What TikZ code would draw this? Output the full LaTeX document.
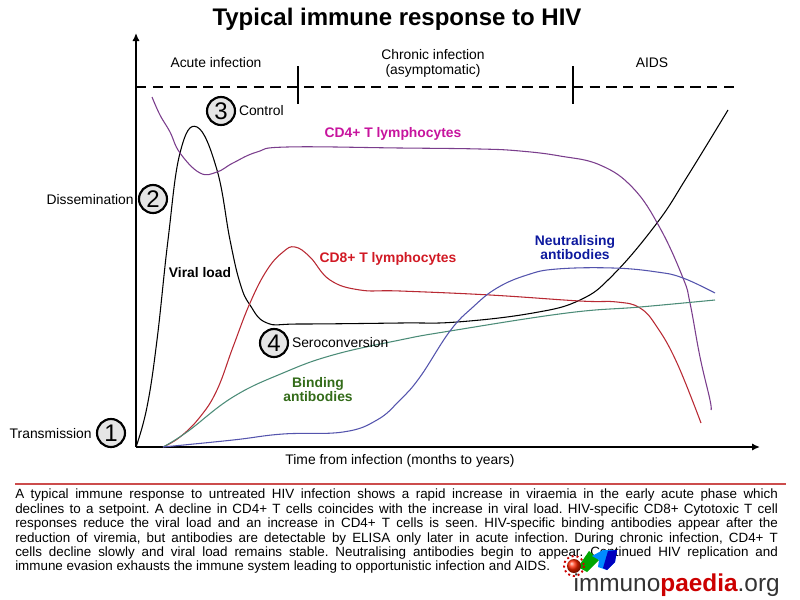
\documentclass[tikz,border=0pt]{standalone}
\usepackage{xcolor}
\usepackage{fontspec}
\setmainfont{Liberation Sans}
\usetikzlibrary{arrows.meta}
\definecolor{cdfour}{rgb}{0.48,0.24,0.55}
\definecolor{cdfourtext}{rgb}{0.78,0.08,0.62}
\definecolor{cdeight}{rgb}{0.72,0.16,0.2}
\definecolor{cdeighttext}{rgb}{0.82,0.1,0.14}
\definecolor{bindline}{rgb}{0.3,0.55,0.47}
\definecolor{bindtext}{rgb}{0.2,0.42,0.1}
\definecolor{neutline}{rgb}{0.33,0.33,0.68}
\definecolor{neuttext}{rgb}{0.05,0.1,0.62}
\definecolor{rulered}{rgb}{0.8,0.3,0.3}
\tikzset{
	curve/.style={line width=0.8pt,smooth,tension=0.7},
	axisline/.style={line width=1.5pt,-{Latex[length=6pt,width=5.5pt]}},
	stage/.style={circle,draw=black,line width=1.6pt,fill=black!10,minimum size=21pt,inner sep=0pt,font=\fontsize{18}{18}\selectfont},
	lbl/.style={font=\fontsize{10.4}{11.2}\selectfont,inner sep=0pt,align=center},
	blbl/.style={font=\fontsize{10.4}{10.5}\selectfont\bfseries,inner sep=0pt,align=center},
}
\begin{document}
\begin{tikzpicture}[x=0.75pt,y=-0.75pt]
	\useasboundingbox (0,0) rectangle (800,600);
	\coordinate (origin) at (136,447);
	\coordinate (ytop) at (136,33);
	\coordinate (xend) at (760,447);
	\coordinate (dashl) at (136,87);
	\coordinate (dashr) at (735,87);
	\coordinate (tick1a) at (298,66);
	\coordinate (tick1b) at (298,104);
	\coordinate (tick2a) at (573,66);
	\coordinate (tick2b) at (573,104);
	\coordinate (rulel) at (15,484);
	\coordinate (ruler) at (786,484);

	\node[font=\fontsize{18}{20}\selectfont\bfseries,inner sep=0pt] (title) at (397,19) {Typical immune response to HIV};

	\draw[axisline] (origin) -- (ytop);
	\draw[axisline] (origin) -- (xend);
	\draw[line width=1.8pt,dash pattern=on 7.7pt off 4.9pt] (dashl) -- (dashr);
	\draw[line width=1pt] (tick1a) -- (tick1b);
	\draw[line width=1pt] (tick2a) -- (tick2b);

	% curves
	\draw[curve,black] plot coordinates {(136,447) (147,407) (157,340) (168,240) (180,153) (197,127) (217,170) (230,240) (240,283) (250,305) (267,323) (300,324) (400,323) (457,322) (533,313) (580,300) (613,275) (657,223) (687,177) (728,110)};
	\draw[curve,cdfour] plot coordinates {(152,97) (160,115) (170,132) (180,153) (200,173) (217,172) (233,163) (257,152) (287,147) (400,148) (480,149) (520,151) (560,156) (600,165) (633,188) (660,228) (683,278) (690,303) (700,357) (710,400) (711,410)};
	\draw[curve,cdeight] plot coordinates {(163,447) (180,437) (200,417) (217,390) (233,347) (250,303) (267,270) (283,252) (295,247) (310,257) (330,280) (360,290) (400,291) (490,295) (580,301) (617,302) (640,308) (657,327) (677,363) (701,423)};
	\draw[curve,bindline] plot coordinates {(163,447) (187,432) (233,397) (283,373) (333,355) (400,340) (450,331) (567,313) (640,307) (715,300)};
	\draw[curve,neutline] plot coordinates {(163,447) (233,440) (283,434) (343,432) (377,420) (400,400) (420,377) (450,331) (473,307) (497,288) (527,275) (557,269) (613,268) (657,272) (683,278) (715,293)};

	% phases
	\node[lbl] (acute) at (216,63) {Acute infection};
	\node[lbl] (chronic) at (433,63) {Chronic infection\\(asymptomatic)};
	\node[lbl] (aids) at (652,63) {AIDS};

	% stages
	\node[stage] (s1) at (111,433) {1};
	\node[stage] (s2) at (153,199) {2};
	\node[stage] (s3) at (221,111) {3};
	\node[stage] (s4) at (274,343) {4};
	\node[lbl,left=3pt,yshift=-0.7pt] (transmission) at (s1.west) {Transmission};
	\node[lbl,left=3pt,yshift=-0.7pt] (dissemination) at (s2.west) {Dissemination};
	\node[lbl,right=2pt] (control) at (s3.east) {Control};
	\node[lbl,right=2pt] (seroconversion) at (s4.east) {Seroconversion};

	\node[blbl] (viral) at (200,273) {Viral load};
	\node[blbl,text=cdfourtext] (cd4) at (393,134) {CD4+ T lymphocytes};
	\node[blbl,text=cdeighttext] (cd8) at (388,259) {CD8+ T lymphocytes};
	\node[blbl,text=bindtext] (bind) at (318,390) {Binding\\antibodies};
	\node[blbl,text=neuttext] (neut) at (575,248) {Neutralising\\antibodies};

	\node[lbl] (xlabel) at (400,461) {Time from infection (months to years)};

	\draw[rulered,line width=1.2pt] (rulel) -- (ruler);
	\node[anchor=north west,inner sep=0pt,text width=572pt,align=justify,font=\fontsize{10.05}{10.8}\selectfont] (caption) at (15,489) {\frenchspacing A typical immune response to untreated HIV infection shows a rapid increase in viraemia in the early acute phase which\linebreak declines to a setpoint. A decline in CD4+ T cells coincides with the increase in viral load. HIV-specific CD8+ Cytotoxic T cell\linebreak responses reduce the viral load and an increase in CD4+ T cells is seen. HIV-specific binding antibodies appear after the\linebreak reduction of viremia, but antibodies are detectable by ELISA only later in acute infection. During chronic infection, CD4+ T\linebreak cells decline slowly and viral load remains stable. Neutralising antibodies begin to appear. Continued HIV replication and\linebreak immune evasion exhausts the immune system leading to opportunistic infection and AIDS.\par};

	% logo
	\fill[green!65!black] (578,567) -- (589,551) -- (599,560) -- (587,572) -- cycle;
	\fill[blue!45!cyan] (592,556) -- (603,550) -- (617,550) -- (615,562) -- (607,570) -- (598,567) -- (599,560) -- cycle;
	\fill[blue!75!black] (608,551) -- (617,550) -- (615,562) -- (607,570) -- (603,568) -- cycle;
	\draw[red!80!black,line width=1.4pt,dash pattern=on 1.5pt off 2.2pt] (574,566) circle (10);
	\shade[ball color=red!70!orange] (574,566) circle (7);
	\node[anchor=base east,inner sep=0pt,font=\fontsize{18.3}{20}\selectfont] (logo) at (780,591) {\textcolor{black!80}{immuno}\textcolor{red!80!black}{\bfseries paedia}\textcolor{black!80}{.org}};
\end{tikzpicture}
\end{document}
